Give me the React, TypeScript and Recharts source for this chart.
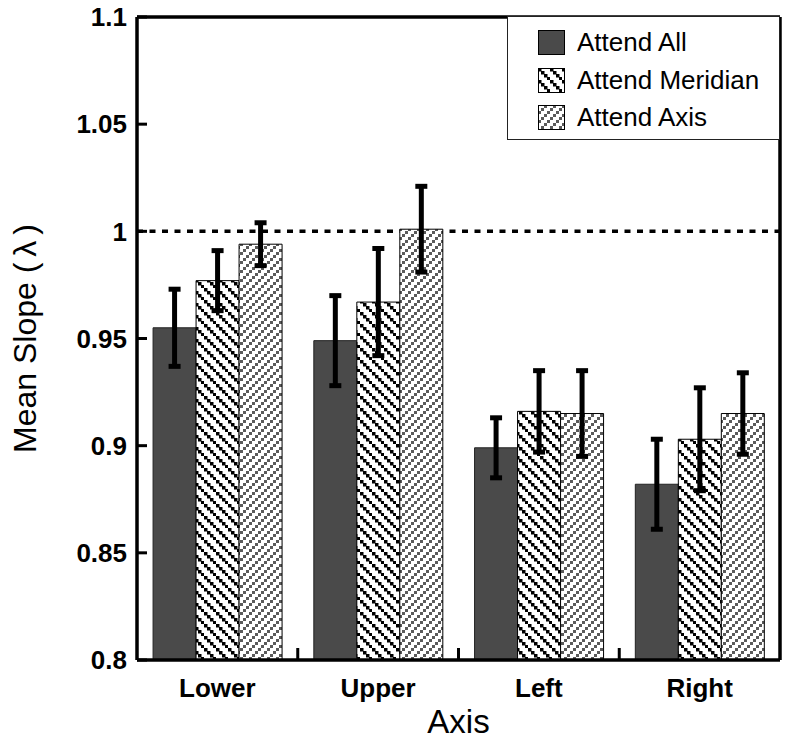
import React from 'react'
import {
  BarChart,
  Bar,
  XAxis,
  YAxis,
  ErrorBar,
  ReferenceLine,
  Label,
} from 'recharts'

const categories = ['Lower', 'Upper', 'Left', 'Right']
const seriesNames = ['Attend All', 'Attend Meridian', 'Attend Axis']
const allMeans = [0.955, 0.949, 0.899, 0.882]
const allErr = [0.018, 0.021, 0.014, 0.021]
const meridianMeans = [0.977, 0.967, 0.916, 0.903]
const meridianErr = [0.014, 0.025, 0.019, 0.024]
const axisMeans = [0.994, 1.001, 0.915, 0.915]
const axisErr = [0.01, 0.02, 0.02, 0.019]
const yTicks = [0.8, 0.85, 0.9, 0.95, 1, 1.05, 1.1]

const FONT = '"Liberation Sans", Arial, Helvetica, sans-serif'
const DARK = '#4a4a4a'

const chartData = categories.map((c, i) => ({
  name: c,
  all: allMeans[i],
  allErr: allErr[i],
  meridian: meridianMeans[i],
  meridianErr: meridianErr[i],
  axis: axisMeans[i],
  axisErr: axisErr[i],
}))

const fills = [DARK, 'url(#pat-meridian)', 'url(#pat-axis)']

// legend box in the upper right corner, over the plot frame
function LegendBox() {
  return (
    <div
      style={{
        position: 'absolute',
        left: 507,
        top: 16,
        width: 273,
        height: 124,
        boxSizing: 'border-box',
        border: '1.5px solid #222',
        background: '#fff',
        paddingTop: 7,
        paddingLeft: 30,
        fontFamily: FONT,
        fontSize: 26,
        color: '#000',
      }}
    >
      {seriesNames.map((n, i) => (
        <div key={n} style={{ display: 'flex', alignItems: 'center', height: 37.5 }}>
          <svg width={27} height={25} style={{ marginRight: 12 }}>
            <rect x={0.5} y={0.5} width={26} height={24} fill={fills[i]} stroke="#000" strokeWidth={1} />
          </svg>
          <span>{n}</span>
        </div>
      ))}
    </div>
  )
}

// short inward tick on the bottom axis, at the boundary between groups
function BottomTick(props: any) {
  const bottom = Math.max(Number(props.y1), Number(props.y2))
  return <path d={`M${props.x1},${bottom}V${bottom - 12}`} stroke="#000" strokeWidth={3} fill="none" />
}

export default function App() {
  return (
    <div style={{ position: 'absolute', left: 0, top: 0, width: 786, height: 743, background: '#fff' }}>
      <BarChart
        width={786}
        height={743}
        data={chartData}
        margin={{ top: 16, right: 5, bottom: 0, left: 0 }}
        barCategoryGap="10%"
        barGap={0}
      >
        <defs>
          <pattern id="pat-meridian" width={12} height={12} patternUnits="userSpaceOnUse">
            <rect width={12} height={12} fill="#fff" />
            {[-3, 0, 3, 6, 9].map((o) => (
              <rect key={o} x={o} y={o} width={3.5} height={3.5} fill="#000" />
            ))}
          </pattern>
          <pattern id="pat-axis" width={9} height={9} patternUnits="userSpaceOnUse">
            <rect width={9} height={9} fill="#fff" />
            {[-3, 0, 3, 6].map((o) => (
              <rect key={o} x={6 - o} y={o} width={3} height={3} fill="#5a5a5a" />
            ))}
          </pattern>
        </defs>

        <XAxis
          dataKey="name"
          height={83}
          tickLine={false}
          tickSize={0}
          tickMargin={19}
          axisLine={{ stroke: '#000', strokeWidth: 3.5 }}
          tick={{ fontSize: 26, fontWeight: 'bold', fill: '#000', fontFamily: FONT }}
        >
          <Label
            content={(p: any) => {
              const vb = p.viewBox
              return (
                <text
                  x={vb.x + vb.width / 2}
                  y={733}
                  textAnchor="middle"
                  fontSize={33}
                  fontFamily={FONT}
                  fill="#000"
                >
                  Axis
                </text>
              )
            }}
          />
        </XAxis>
        {/* top frame line */}
        <XAxis
          xAxisId="top"
          orientation="top"
          type="number"
          domain={[0, 4]}
          allowDataOverflow
          height={1}
          tick={false}
          tickLine={false}
          axisLine={{ stroke: '#000', strokeWidth: 3.5 }}
        />
        <YAxis
          domain={[0.8, 1.1]}
          ticks={yTicks}
          width={137}
          interval={0}
          tickSize={-10}
          tickMargin={20}
          tickLine={{ stroke: '#000', strokeWidth: 3 }}
          axisLine={{ stroke: '#000', strokeWidth: 3.5 }}
          tick={{ fontSize: 26, fontWeight: 'bold', fill: '#000', fontFamily: FONT }}
        >
          <Label
            content={(p: any) => {
              const vb = p.viewBox
              const cy = vb.y + vb.height / 2
              return (
                <text
                  x={25}
                  y={cy}
                  transform={`rotate(-90, 25, ${cy})`}
                  textAnchor="middle"
                  dominantBaseline="central"
                  fontSize={32}
                  fontFamily={FONT}
                  fill="#000"
                >
                  <tspan>Mean Slope (</tspan>
                  <tspan dx={6}>λ</tspan>
                  <tspan dx={6}>)</tspan>
                </text>
              )
            }}
          />
        </YAxis>
        {/* right frame line with inward ticks */}
        <YAxis
          yAxisId="r"
          orientation="right"
          domain={[0.8, 1.1]}
          allowDataOverflow
          ticks={yTicks}
          width={1}
          interval={0}
          tick={false}
          tickSize={-10}
          tickLine={{ stroke: '#000', strokeWidth: 3 }}
          axisLine={{ stroke: '#000', strokeWidth: 3.5 }}
        />

        <ReferenceLine y={1} stroke="#000" strokeWidth={3.5} strokeDasharray="6 6.5" zIndex={100} />
        {categories.slice(1).map((c) => (
          <ReferenceLine key={c} x={c} position="start" stroke="#000" shape={BottomTick} />
        ))}

        <Bar dataKey="all" name={seriesNames[0]} fill={fills[0]} stroke="#222" strokeWidth={1} isAnimationActive={false}>
          <ErrorBar dataKey="allErr" width={6} strokeWidth={5} stroke="#000" direction="y" />
        </Bar>
        <Bar dataKey="meridian" name={seriesNames[1]} fill={fills[1]} stroke="#000" strokeWidth={1} isAnimationActive={false}>
          <ErrorBar dataKey="meridianErr" width={6} strokeWidth={5} stroke="#000" direction="y" />
        </Bar>
        <Bar dataKey="axis" name={seriesNames[2]} fill={fills[2]} stroke="#000" strokeWidth={1} isAnimationActive={false}>
          <ErrorBar dataKey="axisErr" width={6} strokeWidth={5} stroke="#000" direction="y" />
        </Bar>
      </BarChart>
      <LegendBox />
    </div>
  )
}
